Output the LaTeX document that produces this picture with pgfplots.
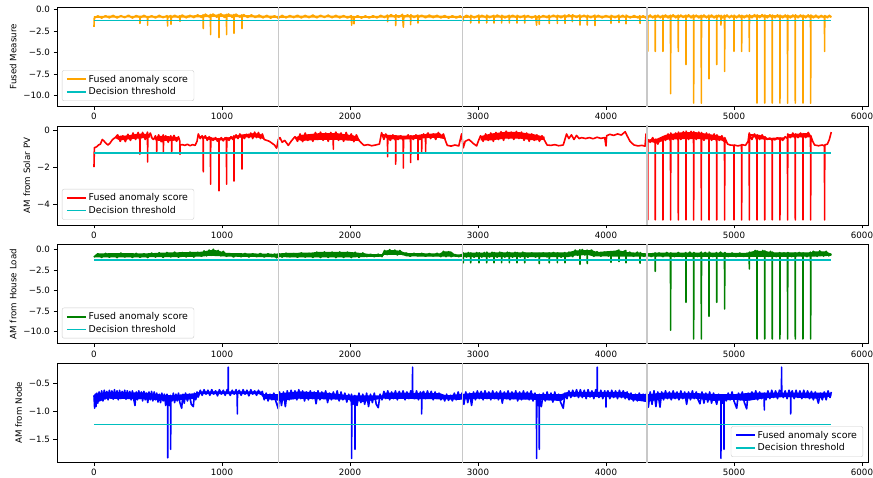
\documentclass[border=0pt]{standalone}
\usepackage{pgfplots}
\pgfplotsset{compat=1.18}
\usepackage{fontspec}
\setmainfont{DejaVu Sans}

\definecolor{mplorange}{HTML}{FFA500}
\definecolor{mplred}{HTML}{FF0000}
\definecolor{mplgreen}{HTML}{008000}
\definecolor{mplblue}{HTML}{0000FF}
\definecolor{mplcyan}{HTML}{00BFBF}
\definecolor{dayline}{HTML}{C8C8C8}
\definecolor{legframe}{HTML}{CCCCCC}

\newcommand{\mplfont}{\fontsize{8.7}{10.4}\selectfont}
\newcommand{\legfont}{\fontsize{9.4}{11}\selectfont}

\pgfplotsset{
  panel/.style={
    anchor=north west, width=811pt, height=98.9pt, scale only axis,
    xmin=-289, xmax=6047,
    xtick={0,1000,2000,3000,4000,5000,6000},
    xticklabels={0,1000,2000,3000,4000,5000,6000},
    xtick pos=left, ytick pos=left,
    tick align=outside, major tick length=3.5pt,
    tick style={black, line width=0.8pt},
    axis line style={line width=0.8pt},
    ticklabel style={font=\mplfont},
    label style={font=\mplfont},
    legend cell align=left,
    legend image code/.code={\draw[#1, line width=1.6pt] (0pt,0pt) -- (19pt,0pt);},
    legend style={font=\legfont, draw=legframe, rounded corners=2pt,
      fill=white, fill opacity=0.8, draw opacity=1, text opacity=1,
      inner xsep=4pt, inner ysep=2.5pt, row sep=0pt},
  },
  scoreline/.style={line width=1.6pt, line join=round},
  noiseband/.style={fill=#1, draw=none, forget plot},
  thresh/.style={color=mplcyan, line width=1.6pt},
  daymark/.style={color=dayline, line width=1.1pt, forget plot},
}

\begin{document}
\begin{tikzpicture}
\path[use as bounding box] (0pt,0pt) rectangle (873pt,-477pt);

% ---------- fused measure ----------
\begin{axis}[panel, at={(57pt,-7.3pt)},
  ymin=-11.26, ymax=0.28,
  ytick={-10,-7.5,-5,-2.5,0}, yticklabels={−10.0,−7.5,−5.0,−2.5,0.0},
  ylabel={Fused Measure},
  legend style={at={(0.006,0.053)}, anchor=south west}]
% spread of the fast fluctuations
\addplot[noiseband=mplorange] coordinates {
(0,-0.75)(120,-0.7)(240,-0.72)(360,-0.7)(480,-0.72)(600,-0.7)(720,-0.68)(840,-0.62)(960,-0.56)(1080,-0.56)(1200,-0.64)(1320,-0.68)(1440,-0.72)(1560,-0.7)(1680,-0.68)(1800,-0.68)(1920,-0.7)(2040,-0.74)(2160,-0.74)(2280,-0.68)(2400,-0.62)(2520,-0.66)(2640,-0.66)(2760,-0.72)(2880,-0.74)(3000,-0.7)(3120,-0.68)(3240,-0.7)(3360,-0.7)(3480,-0.72)(3600,-0.68)(3720,-0.64)(3840,-0.68)(3960,-0.7)(4080,-0.7)(4200,-0.72)(4320,-0.72)(4440,-0.68)(4560,-0.66)(4680,-0.66)(4800,-0.68)(4920,-0.68)(5040,-0.68)(5160,-0.64)(5280,-0.64)(5400,-0.66)(5520,-0.66)(5640,-0.68)(5760,-0.7)
(5760,-0.9)(5640,-0.92)(5520,-0.9)(5400,-0.92)(5280,-0.9)(5160,-0.9)(5040,-0.92)(4920,-0.9)(4800,-0.92)(4680,-0.9)(4560,-0.9)(4440,-0.92)(4320,-0.94)(4200,-0.94)(4080,-0.92)(3960,-0.92)(3840,-0.9)(3720,-0.88)(3600,-0.9)(3480,-0.93)(3360,-0.92)(3240,-0.92)(3120,-0.92)(3000,-0.92)(2880,-0.95)(2760,-0.95)(2640,-0.92)(2520,-0.9)(2400,-0.88)(2280,-0.9)(2160,-0.95)(2040,-0.95)(1920,-0.93)(1800,-0.9)(1680,-0.92)(1560,-0.92)(1440,-0.95)(1320,-0.93)(1200,-0.88)(1080,-0.85)(960,-0.84)(840,-0.88)(720,-0.92)(600,-0.93)(480,-0.94)(360,-0.93)(240,-0.9)(120,-0.92)(0,-0.95)
} -- cycle;
\addplot[scoreline, mplorange] coordinates {
(0,-2.0)(2,-1.0)(30,-0.72)(60,-0.98)(90,-0.70)(120,-0.95)(150,-0.66)(180,-0.97)(210,-0.70)(240,-0.92)(270,-0.64)(300,-0.98)(330,-0.68)(358,-0.9)(359,-1.6)(361,-0.95)(390,-0.66)(418,-0.9)(419,-1.8)(420,-0.95)(450,-0.70)(480,-0.96)(510,-0.66)(540,-0.93)(570,-0.70)(574,-0.9)(575,-1.9)(576,-0.9)(600,-0.68)(602,-1.7)(604,-0.95)(630,-0.64)(660,-0.92)(671,-0.7)(672,-1.35)(673,-0.9)(690,-0.62)(720,-0.95)(750,-0.66)(780,-0.92)(810,-0.6)(840,-0.9)(853,-0.6)(854,-2.2)(855,-0.9)(870,-0.52)(900,-0.85)(910,-0.55)(911,-2.9)(912,-0.8)(930,-0.5)(960,-0.88)(976,-0.55)(977,-3.25)(978,-0.8)(990,-0.48)(1020,-0.9)(1035,-0.55)(1036,-2.9)(1037,-0.8)(1050,-0.5)(1080,-0.9)(1093,-0.55)(1094,-2.75)(1095,-0.85)(1110,-0.52)(1140,-0.88)(1155,-0.6)(1156,-2.2)(1157,-0.9)(1170,-0.58)(1200,-0.9)(1230,-0.6)(1260,-0.92)(1290,-0.62)(1320,-0.95)(1350,-0.66)(1380,-0.98)(1410,-0.7)(1440,-1.0)(1470,-0.66)(1500,-0.95)(1530,-0.68)(1560,-0.92)(1590,-0.64)(1620,-0.96)(1650,-0.66)(1680,-0.93)(1710,-0.62)(1740,-0.95)(1770,-0.65)(1800,-0.9)(1830,-0.63)(1860,-0.94)(1890,-0.66)(1920,-0.96)(1950,-0.68)(1980,-0.97)(2010,-0.7)(2013,-1.8)(2015,-0.95)(2030,-0.8)(2031,-1.65)(2033,-0.95)(2060,-0.7)(2090,-0.98)(2120,-0.72)(2150,-0.97)(2180,-0.7)(2210,-0.96)(2240,-0.66)(2270,-0.92)(2293,-0.62)(2294,-1.4)(2295,-0.9)(2320,-0.58)(2356,-0.9)(2357,-1.85)(2358,-0.6)(2380,-0.88)(2410,-0.55)(2417,-2.05)(2420,-0.9)(2450,-0.6)(2473,-0.9)(2474,-1.75)(2475,-0.6)(2500,-0.92)(2530,-0.62)(2531,-1.55)(2533,-0.9)(2560,-0.64)(2590,-0.95)(2620,-0.62)(2650,-0.93)(2680,-0.66)(2710,-0.96)(2740,-0.68)(2770,-0.98)(2800,-0.7)(2830,-0.97)(2860,-0.72)(2884,-1.0)(2885,-1.3)(2886,-0.9)(2910,-0.66)(2942,-0.9)(2943,-1.55)(2944,-0.66)(2970,-0.95)(3007,-0.64)(3008,-1.55)(3009,-0.92)(3030,-0.66)(3067,-0.95)(3068,-1.55)(3069,-0.64)(3090,-0.93)(3124,-0.66)(3125,-1.55)(3126,-0.95)(3150,-0.62)(3184,-0.92)(3185,-1.55)(3186,-0.65)(3210,-0.96)(3244,-0.66)(3245,-1.55)(3246,-0.93)(3270,-0.64)(3304,-0.95)(3305,-1.55)(3306,-0.66)(3330,-0.92)(3364,-0.66)(3365,-1.55)(3366,-0.95)(3390,-0.68)(3420,-0.97)(3450,-0.7)(3458,-1.8)(3460,-0.95)(3478,-0.7)(3479,-1.7)(3480,-0.96)(3510,-0.68)(3540,-0.93)(3556,-0.66)(3557,-1.6)(3558,-0.92)(3590,-0.64)(3619,-0.93)(3620,-1.6)(3621,-0.66)(3650,-0.95)(3679,-0.62)(3680,-1.6)(3681,-0.92)(3710,-0.6)(3736,-0.9)(3737,-1.4)(3738,-0.6)(3770,-0.9)(3796,-0.62)(3797,-1.8)(3798,-0.92)(3830,-0.64)(3853,-0.95)(3854,-1.8)(3855,-0.66)(3880,-0.94)(3913,-0.64)(3914,-1.85)(3915,-0.92)(3940,-0.66)(3970,-0.95)(4000,-0.68)(4038,-0.96)(4039,-1.6)(4040,-0.66)(4070,-0.93)(4101,-0.64)(4102,-1.5)(4103,-0.95)(4130,-0.66)(4155,-0.92)(4156,-1.65)(4157,-0.64)(4190,-0.95)(4220,-0.68)(4250,-0.97)(4265,-0.7)(4266,-1.6)(4267,-0.96)(4290,-0.7)(4310,-0.98)
(4325,-0.7)(4326,-4.87)(4327,-0.9)(4345,-0.62)(4365,-0.95)(4384,-0.66)(4385,-4.87)(4386,-0.92)(4405,-0.64)(4425,-0.95)(4444,-0.66)(4445,-4.87)(4446,-0.93)(4465,-0.62)(4485,-0.96)(4504,-0.64)(4505,-9.8)(4506,-0.92)(4525,-0.6)(4545,-0.94)(4564,-0.64)(4565,-4.87)(4566,-0.95)(4585,-0.62)(4605,-0.92)(4624,-0.64)(4625,-6.4)(4626,-0.94)(4645,-0.6)(4665,-0.95)(4684,-0.62)(4685,-10.9)(4686,-0.92)(4705,-0.64)(4725,-0.96)(4744,-0.66)(4745,-10.9)(4746,-0.93)(4765,-0.62)(4785,-0.95)(4804,-0.64)(4805,-8.07)(4806,-0.92)(4825,-0.62)(4845,-0.96)(4864,-0.66)(4865,-6.4)(4866,-0.94)(4880,-0.64)(4897,-0.9)(4898,-1.8)(4899,-0.66)(4912,-0.95)(4926,-0.64)(4927,-7.2)(4928,-0.92)(4945,-0.62)(4965,-0.95)(4980,-0.66)(4999,-0.93)(5000,-4.87)(5001,-0.64)(5020,-0.95)(5040,-0.62)(5059,-0.94)(5060,-4.87)(5061,-0.66)(5080,-0.95)(5100,-0.64)(5119,-0.92)(5120,-4.87)(5121,-0.6)(5140,-0.94)(5160,-0.58)(5179,-0.92)(5180,-10.9)(5181,-0.6)(5200,-0.93)(5220,-0.58)(5239,-0.9)(5240,-10.9)(5241,-0.62)(5260,-0.95)(5280,-0.6)(5298,-0.92)(5299,-10.9)(5300,-0.62)(5320,-0.94)(5340,-0.6)(5358,-0.92)(5359,-10.9)(5360,-0.64)(5380,-0.95)(5400,-0.62)(5418,-0.93)(5419,-10.9)(5420,-0.64)(5440,-0.96)(5460,-0.62)(5478,-0.92)(5479,-10.9)(5480,-0.6)(5500,-0.94)(5520,-0.62)(5538,-0.93)(5539,-10.9)(5540,-0.64)(5560,-0.95)(5580,-0.6)(5598,-0.92)(5599,-10.9)(5600,-0.62)(5620,-0.95)(5640,-0.64)(5660,-0.97)(5680,-0.66)(5707,-0.95)(5708,-4.87)(5709,-0.68)(5730,-0.94)(5745,-0.65)(5760,-0.9)
};
\addlegendentry{Fused anomaly score}
\addplot[thresh] coordinates {(0,-1.24)(5760,-1.24)};
\addlegendentry{Decision threshold}
\addplot[daymark] coordinates {(1440,-20)(1440,20)};
\addplot[daymark] coordinates {(2880,-20)(2880,20)};
\addplot[daymark] coordinates {(4320,-20)(4320,20)};
\end{axis}

% ---------- solar PV ----------
\begin{axis}[panel, at={(57pt,-126.0pt)},
  ymin=-5.13, ymax=0.23,
  ytick={-4,-2,0}, yticklabels={−4,−2,0},
  ylabel={AM from Solar PV},
  legend style={at={(0.006,0.053)}, anchor=south west}]
% spread of the fast fluctuations in the busy stretches
\addplot[noiseband=mplred] coordinates {(165,-0.4)(200,-0.3)(265,-0.28)(345,-0.18)(440,-0.2)(440,-0.4)(345,-0.45)(265,-0.5)(200,-0.55)(165,-0.42)} -- cycle;
\addplot[noiseband=mplred] coordinates {(470,-0.4)(505,-0.3)(600,-0.33)(660,-0.38)(660,-0.55)(600,-0.58)(505,-0.58)(470,-0.48)} -- cycle;
\addplot[noiseband=mplred] coordinates {(820,-0.3)(900,-0.38)(1000,-0.45)(1090,-0.33)(1140,-0.24)(1255,-0.15)(1300,-0.2)(1330,-0.45)(1330,-0.5)(1300,-0.42)(1255,-0.38)(1140,-0.4)(1090,-0.46)(1000,-0.55)(900,-0.52)(820,-0.35)} -- cycle;
\addplot[noiseband=mplred] coordinates {(1575,-0.38)(1620,-0.25)(1770,-0.15)(1890,-0.15)(2030,-0.28)(2075,-0.5)(2075,-0.58)(2030,-0.58)(1890,-0.52)(1770,-0.52)(1620,-0.58)(1575,-0.45)} -- cycle;
\addplot[noiseband=mplred] coordinates {(2250,-0.2)(2300,-0.25)(2450,-0.3)(2610,-0.2)(2700,-0.15)(2745,-0.4)(2745,-0.5)(2700,-0.42)(2610,-0.42)(2450,-0.5)(2300,-0.5)(2250,-0.25)} -- cycle;
\addplot[noiseband=mplred] coordinates {(3020,-0.32)(3100,-0.18)(3220,-0.08)(3320,-0.1)(3440,-0.22)(3520,-0.35)(3520,-0.52)(3440,-0.55)(3320,-0.45)(3220,-0.45)(3100,-0.55)(3020,-0.55)} -- cycle;
\addplot[noiseband=mplred] coordinates {(4330,-0.5)(4400,-0.45)(4465,-0.25)(4600,-0.1)(4700,-0.1)(4800,-0.2)(4900,-0.32)(4940,-0.6)(4940,-0.7)(4900,-0.55)(4800,-0.5)(4700,-0.48)(4600,-0.48)(4465,-0.52)(4400,-0.7)(4330,-0.62)} -- cycle;
\addplot[noiseband=mplred] coordinates {(5125,-0.2)(5200,-0.25)(5260,-0.42)(5400,-0.38)(5400,-0.5)(5260,-0.52)(5200,-0.48)(5125,-0.3)} -- cycle;
\addplot[noiseband=mplred] coordinates {(5420,-0.22)(5500,-0.18)(5580,-0.15)(5605,-0.3)(5605,-0.4)(5580,-0.38)(5500,-0.38)(5420,-0.4)} -- cycle;
\addplot[scoreline, mplred] coordinates {
(0,-2.0)(3,-0.95)(20,-0.9)(35,-0.8)(50,-0.75)(65,-0.5)(80,-0.6)(95,-0.72)(110,-0.8)(125,-0.7)(140,-0.55)(155,-0.45)(165,-0.4)(185,-0.25)(205,-0.6)(225,-0.3)(245,-0.62)(265,-0.22)(285,-0.55)(305,-0.15)(325,-0.5)(345,-0.12)(358,-0.55)(359,-1.3)(360,-0.5)(380,-0.12)(400,-0.5)(418,-0.1)(419,-1.72)(420,-0.4)(440,-0.15)(455,-0.45)(465,-0.5)(480,-0.3)(489,-0.6)(490,-1.15)(491,-0.55)(505,-0.25)(525,-0.62)(541,-0.25)(542,-1.2)(543,-0.6)(560,-0.3)(580,-0.65)(600,-0.3)(606,-0.6)(607,-1.2)(608,-0.55)(625,-0.28)(645,-0.6)(660,-0.35)(671,-0.6)(672,-1.3)(673,-0.8)(690,-0.78)(710,-0.82)(730,-0.76)(750,-0.84)(770,-0.78)(790,-0.82)(805,-0.6)(815,-0.2)
(830,-0.45)(845,-0.3)(853,-0.5)(854,-2.25)(855,-0.45)(870,-0.3)(885,-0.55)(900,-0.35)(910,-0.5)(911,-2.92)(912,-0.4)(930,-0.55)(950,-0.4)(965,-0.6)(976,-0.45)(977,-3.28)(978,-0.55)(995,-0.4)(1010,-0.58)(1025,-0.4)(1035,-0.55)(1036,-2.92)(1037,-0.4)(1055,-0.55)(1070,-0.35)(1085,-0.5)(1093,-0.3)(1094,-2.75)(1095,-0.45)(1110,-0.25)(1125,-0.45)(1140,-0.2)(1155,-0.42)(1156,-2.1)(1157,-0.3)(1175,-0.45)(1190,-0.22)(1210,-0.4)(1225,-0.15)(1240,-0.45)(1255,-0.1)(1270,-0.4)(1285,-0.12)(1300,-0.45)(1315,-0.2)(1330,-0.5)(1350,-0.55)(1370,-0.6)(1390,-0.7)(1410,-0.8)(1427,-0.97)(1440,-0.5)(1453,-0.4)
(1470,-0.65)(1490,-0.55)(1518,-0.82)(1540,-0.6)(1570,-0.35)(1590,-0.6)(1610,-0.2)(1630,-0.62)(1650,-0.15)(1670,-0.55)(1690,-0.25)(1710,-0.6)(1730,-0.12)(1750,-0.5)(1770,-0.1)(1790,-0.55)(1810,-0.15)(1830,-0.6)(1850,-0.12)(1869,-0.5)(1870,-1.03)(1871,-0.4)(1890,-0.1)(1910,-0.55)(1930,-0.15)(1950,-0.6)(1970,-0.12)(1990,-0.5)(2010,-0.2)(2030,-0.62)(2050,-0.25)(2070,-0.55)(2090,-0.7)(2110,-0.82)(2140,-0.78)(2170,-0.84)(2200,-0.8)(2230,-0.75)(2247,-0.13)
(2265,-0.5)(2280,-0.2)(2293,-0.45)(2294,-1.44)(2295,-0.3)(2315,-0.55)(2335,-0.25)(2356,-0.55)(2357,-1.84)(2358,-0.4)(2375,-0.5)(2395,-0.3)(2416,-0.55)(2417,-2.05)(2418,-0.4)(2435,-0.45)(2455,-0.25)(2473,-0.5)(2474,-1.75)(2475,-0.3)(2495,-0.5)(2515,-0.25)(2530,-0.45)(2531,-1.6)(2532,-0.3)(2545,-0.5)(2559,-0.25)(2560,-1.2)(2561,-0.4)(2575,-0.2)(2590,-0.4)(2591,-1.15)(2592,-0.3)(2610,-0.15)(2630,-0.45)(2650,-0.2)(2670,-0.5)(2690,-0.12)(2710,-0.4)(2730,-0.2)(2745,-0.55)(2760,-0.82)(2790,-0.86)(2820,-0.8)(2850,-0.85)(2872,-0.2)(2885,-0.95)(2900,-0.6)(2930,-0.5)(2960,-0.7)(2989,-0.85)(3005,-0.55)
(3020,-0.3)(3040,-0.6)(3060,-0.2)(3080,-0.55)(3100,-0.15)(3120,-0.6)(3140,-0.12)(3160,-0.5)(3180,-0.08)(3200,-0.55)(3220,-0.05)(3240,-0.45)(3260,-0.1)(3280,-0.5)(3300,-0.06)(3320,-0.45)(3340,-0.1)(3360,-0.55)(3380,-0.15)(3400,-0.6)(3420,-0.2)(3440,-0.55)(3460,-0.25)(3480,-0.6)(3500,-0.3)(3520,-0.55)(3540,-0.8)(3570,-0.82)(3600,-0.78)(3630,-0.84)(3666,-0.8)(3692,-0.2)(3710,-0.45)(3730,-0.25)(3750,-0.5)(3770,-0.28)(3790,-0.45)(3810,-0.4)(3840,-0.45)(3870,-0.4)(3900,-0.46)(3930,-0.38)(3960,-0.44)(3990,-0.4)(4000,-0.85)(4005,-0.3)(4030,-0.22)(4060,-0.28)(4090,-0.2)(4120,-0.26)(4150,-0.08)(4165,-0.3)(4188,-0.6)(4205,-0.72)(4220,-0.8)(4250,-0.85)(4280,-0.82)(4305,-0.86)(4313,-0.2)
(4325,-0.6)(4326,-4.86)(4327,-0.5)(4345,-0.65)(4365,-0.4)(4384,-0.7)(4385,-4.86)(4386,-0.5)(4405,-0.75)(4425,-0.45)(4444,-0.6)(4445,-4.86)(4446,-0.35)(4465,-0.55)(4485,-0.2)(4504,-0.6)(4505,-4.86)(4506,-0.15)(4525,-0.5)(4545,-0.15)(4564,-0.55)(4565,-4.86)(4566,-0.1)(4585,-0.5)(4605,-0.08)(4624,-0.45)(4625,-4.86)(4626,-0.05)(4645,-0.5)(4665,-0.06)(4684,-0.45)(4685,-4.86)(4686,-0.08)(4705,-0.5)(4725,-0.1)(4744,-0.5)(4745,-4.86)(4746,-0.12)(4765,-0.55)(4785,-0.15)(4804,-0.5)(4805,-4.86)(4806,-0.2)(4825,-0.55)(4845,-0.2)(4864,-0.6)(4865,-4.86)(4866,-0.25)(4885,-0.55)(4905,-0.3)(4926,-0.6)(4927,-4.86)(4928,-0.4)(4950,-0.75)(4970,-0.8)(4999,-0.82)(5000,-4.86)(5001,-0.8)(5030,-0.85)(5059,-0.8)(5060,-4.86)(5061,-0.78)(5090,-0.82)(5110,-0.6)(5119,-0.15)(5120,-4.86)(5121,-0.2)
(5140,-0.5)(5160,-0.2)(5179,-0.55)(5180,-4.86)(5181,-0.25)(5200,-0.5)(5220,-0.25)(5239,-0.5)(5240,-4.86)(5241,-0.35)(5260,-0.5)(5280,-0.42)(5298,-0.55)(5299,-4.86)(5300,-0.45)(5320,-0.52)(5340,-0.4)(5358,-0.5)(5359,-4.86)(5360,-0.42)(5380,-0.55)(5400,-0.35)(5418,-0.45)(5419,-4.86)(5420,-0.2)(5440,-0.4)(5460,-0.15)(5478,-0.45)(5479,-4.86)(5480,-0.2)(5500,-0.4)(5520,-0.15)(5538,-0.42)(5539,-4.86)(5540,-0.18)(5560,-0.4)(5580,-0.12)(5598,-0.35)(5599,-4.86)(5600,-0.3)(5615,-0.6)(5630,-0.8)(5660,-0.84)(5690,-0.8)(5707,-0.85)(5708,-4.86)(5709,-0.8)(5730,-0.75)(5745,-0.5)(5760,-0.1)
};
\addlegendentry{Fused anomaly score}
\addplot[thresh] coordinates {(0,-1.24)(5760,-1.24)};
\addlegendentry{Decision threshold}
\addplot[daymark] coordinates {(1440,-20)(1440,20)};
\addplot[daymark] coordinates {(2880,-20)(2880,20)};
\addplot[daymark] coordinates {(4320,-20)(4320,20)};
\end{axis}

% ---------- house load ----------
\begin{axis}[panel, at={(57pt,-244.7pt)},
  ymin=-11.5, ymax=0.61,
  ytick={-10,-7.5,-5,-2.5,0}, yticklabels={−10.0,−7.5,−5.0,−2.5,0.0},
  ylabel={AM from House Load},
  legend style={at={(0.006,0.053)}, anchor=south west}]
% spread of the fast fluctuations
\addplot[noiseband=mplgreen] coordinates {
(0,-0.8)(30,-0.45)(200,-0.42)(400,-0.45)(560,-0.35)(700,-0.3)(840,-0.25)(900,-0.08)(932,0.0)(970,-0.12)(1036,-0.4)(1200,-0.45)(1400,-0.5)(1500,-0.4)(1700,-0.35)(1740,-0.28)(2000,-0.28)(2100,-0.42)(2160,-0.55)(2250,-0.55)(2270,-0.12)(2310,-0.03)(2390,-0.12)(2440,-0.42)(2700,-0.45)(2730,-0.22)(2790,-0.22)(2820,-0.58)(2870,-0.58)(2900,-0.35)(3700,-0.33)(3760,-0.08)(3888,-0.05)(3930,-0.28)(4100,-0.08)(4160,-0.28)(4320,-0.45)(4400,-0.36)(5100,-0.38)(5165,-0.12)(5240,-0.15)(5300,-0.32)(5600,-0.34)(5620,-0.22)(5720,-0.22)(5760,-0.5)
(5760,-0.75)(5600,-0.86)(5100,-0.88)(4320,-0.86)(3900,-0.82)(3860,-0.65)(3760,-0.72)(3700,-0.92)(2900,-0.92)(2870,-0.88)(2800,-0.86)(2720,-0.86)(2440,-0.82)(2410,-0.65)(2270,-0.62)(2250,-0.86)(2100,-0.9)(2000,-0.95)(1700,-0.95)(1450,-0.92)(1427,-1.0)(1400,-0.92)(1036,-0.85)(990,-0.8)(900,-0.75)(840,-0.85)(600,-0.92)(0,-0.94)
} -- cycle;
\addplot[scoreline, mplgreen] coordinates {
(0,-0.9)(30,-0.5)(60,-0.95)(90,-0.45)(120,-0.92)(150,-0.5)(180,-0.97)(210,-0.42)(240,-0.9)(270,-0.5)(300,-0.95)(330,-0.45)(360,-0.93)(390,-0.5)(420,-0.96)(450,-0.42)(480,-0.9)(510,-0.38)(540,-0.94)(570,-0.35)(600,-0.88)(630,-0.3)(660,-0.92)(690,-0.35)(720,-0.88)(750,-0.3)(780,-0.9)(810,-0.32)(840,-0.8)(860,-0.15)(880,-0.75)(900,-0.05)(915,-0.7)(932,0.05)(950,-0.6)(970,-0.1)(990,-0.75)(1010,-0.2)(1036,-0.8)(1060,-0.45)(1090,-0.9)(1120,-0.5)(1150,-0.88)(1180,-0.45)(1210,-0.9)(1240,-0.5)(1270,-0.86)(1300,-0.45)(1330,-0.9)(1360,-0.5)(1390,-0.88)(1410,-0.55)(1427,-1.0)(1445,-0.5)(1470,-0.9)(1500,-0.42)(1530,-0.88)(1560,-0.45)(1590,-0.92)(1620,-0.4)(1650,-0.9)(1680,-0.45)(1710,-0.95)(1740,-0.3)(1770,-0.96)(1800,-0.28)(1830,-0.95)(1860,-0.3)(1890,-0.97)(1920,-0.28)(1950,-0.95)(1980,-0.3)(2010,-0.96)(2040,-0.32)(2070,-0.94)(2100,-0.4)(2130,-0.85)(2160,-0.55)(2190,-0.86)(2220,-0.55)(2250,-0.84)(2270,-0.1)(2290,-0.6)(2310,0.0)(2330,-0.55)(2350,-0.05)(2370,-0.65)(2390,-0.1)(2410,-0.6)(2440,-0.4)(2470,-0.8)(2500,-0.45)(2530,-0.78)(2560,-0.45)(2590,-0.8)(2620,-0.48)(2650,-0.78)(2680,-0.45)(2710,-0.85)(2730,-0.2)(2750,-0.85)(2770,-0.25)(2790,-0.85)(2820,-0.6)(2850,-0.86)(2870,-0.6)
(2884,-0.9)(2885,-1.6)(2886,-0.4)(2910,-0.9)(2925,-0.35)(2942,-0.88)(2943,-1.6)(2944,-0.4)(2970,-0.92)(2990,-0.35)(3007,-0.9)(3008,-1.6)(3009,-0.38)(3030,-0.9)(3050,-0.35)(3067,-0.92)(3068,-1.6)(3069,-0.3)(3090,-0.9)(3110,-0.32)(3124,-0.9)(3125,-1.6)(3126,-0.35)(3150,-0.92)(3170,-0.3)(3184,-0.88)(3185,-1.6)(3186,-0.35)(3210,-0.9)(3230,-0.3)(3244,-0.9)(3245,-1.6)(3246,-0.35)(3270,-0.92)(3290,-0.32)(3304,-0.9)(3305,-1.6)(3306,-0.35)(3330,-0.9)(3350,-0.3)(3364,-0.88)(3365,-1.6)(3366,-0.4)(3390,-0.92)(3420,-0.4)(3450,-0.9)(3478,-0.45)(3479,-1.7)(3480,-0.9)(3510,-0.4)(3540,-0.88)(3556,-0.4)(3557,-1.6)(3558,-0.9)(3590,-0.35)(3619,-0.9)(3620,-1.6)(3621,-0.4)(3650,-0.92)(3679,-0.35)(3680,-1.6)(3681,-0.9)(3710,-0.3)(3740,-0.85)(3760,-0.05)(3780,-0.7)(3796,0.0)(3797,-1.8)(3798,-0.6)(3815,0.02)(3835,-0.65)(3853,-0.05)(3854,-1.7)(3855,-0.6)(3875,-0.15)(3888,-0.05)(3905,-0.8)(3930,-0.25)(3960,-0.8)(3990,-0.3)(4020,-0.78)(4038,-0.25)(4039,-1.55)(4040,-0.8)(4070,-0.3)(4101,-0.05)(4102,-1.45)(4103,-0.75)(4130,-0.3)(4155,-0.1)(4156,-1.6)(4157,-0.8)(4185,-0.3)(4215,-0.8)(4245,-0.3)(4265,-0.8)(4266,-1.65)(4267,-0.35)(4295,-0.82)(4325,-0.5)
(4355,-0.85)(4384,-0.4)(4385,-2.65)(4386,-0.85)(4415,-0.4)(4445,-0.85)(4475,-0.35)(4504,-0.86)(4505,-9.87)(4506,-0.4)(4535,-0.85)(4565,-0.35)(4595,-0.84)(4624,-0.35)(4625,-6.45)(4626,-0.85)(4655,-0.3)(4684,-0.85)(4685,-10.93)(4686,-0.35)(4715,-0.84)(4744,-0.3)(4745,-10.93)(4746,-0.85)(4775,-0.35)(4804,-0.85)(4805,-8.16)(4806,-0.3)(4835,-0.84)(4864,-0.35)(4865,-6.45)(4866,-0.86)(4895,-0.3)(4926,-0.85)(4927,-7.26)(4928,-0.35)(4955,-0.84)(4985,-0.4)(5015,-0.86)(5045,-0.4)(5075,-0.85)(5100,-0.45)(5119,-0.85)(5120,-2.37)(5121,-0.3)(5150,-0.8)(5165,-0.1)(5179,-0.75)(5180,-10.93)(5181,-0.15)(5210,-0.8)(5225,-0.1)(5239,-0.75)(5240,-10.93)(5241,-0.15)(5270,-0.82)(5285,-0.2)(5298,-0.8)(5299,-10.93)(5300,-0.3)(5330,-0.85)(5358,-0.35)(5359,-10.93)(5360,-0.85)(5390,-0.4)(5418,-0.86)(5419,-10.93)(5420,-0.35)(5450,-0.85)(5478,-0.4)(5479,-10.93)(5480,-0.86)(5510,-0.35)(5538,-0.85)(5539,-10.93)(5540,-0.4)(5570,-0.85)(5598,-0.3)(5599,-10.93)(5600,-0.8)(5620,-0.2)(5650,-0.8)(5670,-0.15)(5700,-0.78)(5720,-0.2)(5740,-0.75)(5760,-0.5)
};
\addlegendentry{Fused anomaly score}
\addplot[thresh] coordinates {(0,-1.24)(5760,-1.24)};
\addlegendentry{Decision threshold}
\addplot[daymark] coordinates {(1440,-20)(1440,20)};
\addplot[daymark] coordinates {(2880,-20)(2880,20)};
\addplot[daymark] coordinates {(4320,-20)(4320,20)};
\end{axis}

% ---------- node ----------
\begin{axis}[panel, at={(57pt,-363.3pt)},
  ymin=-1.908, ymax=-0.151,
  ytick={-1.5,-1,-0.5}, yticklabels={−1.5,−1.0,−0.5},
  ylabel={AM from Node},
  legend style={at={(0.994,0.053)}, anchor=south east}]
% spread of the fast fluctuations
\addplot[noiseband=mplblue] coordinates {
(0,-0.72)(20,-0.69)(100,-0.66)(400,-0.67)(500,-0.7)(600,-0.72)(700,-0.7)(800,-0.68)(830,-0.65)(1300,-0.65)(1330,-0.7)(1440,-0.7)(1460,-0.68)(1600,-0.65)(1800,-0.67)(2000,-0.72)(2250,-0.72)(2270,-0.67)(2700,-0.68)(2750,-0.72)(2850,-0.7)(3000,-0.67)(3400,-0.67)(3450,-0.7)(3650,-0.7)(3700,-0.66)(4150,-0.66)(4200,-0.7)(4320,-0.7)(4450,-0.67)(4700,-0.68)(4880,-0.7)(5000,-0.7)(5150,-0.67)(5700,-0.67)(5760,-0.68)
(5760,-0.74)(5650,-0.78)(5400,-0.75)(5250,-0.77)(5100,-0.82)(5000,-0.8)(4850,-0.82)(4700,-0.78)(4450,-0.78)(4320,-0.84)(4200,-0.8)(4150,-0.76)(3700,-0.74)(3650,-0.82)(3450,-0.8)(3000,-0.78)(2850,-0.8)(2700,-0.79)(2250,-0.78)(2100,-0.84)(2000,-0.8)(1600,-0.78)(1450,-0.82)(1330,-0.78)(1300,-0.7)(830,-0.7)(800,-0.78)(600,-0.82)(400,-0.79)(100,-0.78)(20,-0.85)(0,-0.8)
} -- cycle;
\addplot[scoreline, mplblue] coordinates {
(0,-0.72)(5,-0.95)(10,-0.7)(16,-0.92)(22,-0.68)(30,-0.86)(40,-0.66)(50,-0.8)(60,-0.64)(70,-0.82)(80,-0.63)(90,-0.78)(100,-0.65)(110,-0.8)(120,-0.63)(130,-0.76)(140,-0.64)(150,-0.79)(160,-0.62)(170,-0.77)(180,-0.64)(190,-0.8)(200,-0.63)(210,-0.78)(220,-0.65)(230,-0.76)(240,-0.63)(250,-0.79)(260,-0.64)(270,-0.77)(280,-0.65)(290,-0.8)(300,-0.64)(310,-0.78)(320,-0.9)(330,-0.66)(340,-0.8)(350,-0.64)(360,-0.78)(370,-0.66)(380,-0.82)(390,-0.65)(400,-0.8)(410,-0.68)(420,-0.85)(430,-0.66)(440,-0.8)(450,-0.65)(460,-0.82)(470,-0.66)(480,-0.8)(490,-0.68)(500,-0.84)(510,-0.7)(520,-0.85)(530,-0.68)(540,-0.82)(550,-0.7)(560,-0.9)(570,-0.7)(575,-0.8)(576,-1.83)(577,-0.75)(590,-0.9)(598,-0.72)(599,-1.68)(600,-0.75)(610,-0.82)(620,-0.68)(630,-0.85)(640,-0.7)(650,-0.82)(660,-0.68)(670,-0.84)(685,-0.95)(695,-0.7)(705,-0.86)(715,-0.68)(730,-0.82)(745,-0.7)(760,-0.88)(776,-0.92)(785,-0.68)(795,-0.8)(805,-0.66)(815,-0.75)
(830,-0.63)(845,-0.72)(860,-0.62)(875,-0.7)(890,-0.63)(905,-0.72)(920,-0.62)(935,-0.7)(950,-0.64)(965,-0.73)(980,-0.62)(995,-0.7)(1010,-0.63)(1025,-0.72)(1040,-0.62)(1048,-0.68)(1049,-0.22)(1050,-0.66)(1065,-0.72)(1080,-0.63)(1095,-0.7)(1110,-0.62)(1119,-0.72)(1120,-1.05)(1121,-0.68)(1135,-0.63)(1150,-0.72)(1165,-0.62)(1180,-0.7)(1195,-0.63)(1210,-0.73)(1225,-0.62)(1240,-0.7)(1255,-0.64)(1270,-0.72)(1285,-0.63)(1300,-0.7)(1315,-0.65)(1330,-0.8)(1345,-0.68)(1360,-0.82)(1375,-0.7)(1390,-0.8)(1405,-0.68)(1420,-0.82)(1440,-0.96)(1450,-0.66)
(1465,-0.9)(1480,-0.66)(1495,-0.92)(1510,-0.64)(1525,-0.8)(1540,-0.63)(1555,-0.78)(1570,-0.64)(1585,-0.8)(1600,-0.62)(1615,-0.78)(1630,-0.64)(1645,-0.82)(1660,-0.66)(1675,-0.8)(1690,-0.64)(1705,-0.78)(1720,-0.66)(1735,-0.87)(1750,-0.64)(1765,-0.8)(1780,-0.66)(1795,-0.78)(1810,-0.64)(1825,-0.85)(1840,-0.68)(1855,-0.8)(1870,-0.66)(1885,-0.78)(1900,-0.64)(1915,-0.82)(1930,-0.66)(1945,-0.8)(1960,-0.68)(1975,-0.84)(1990,-0.7)(2005,-0.82)(2012,-0.7)(2013,-1.84)(2014,-0.75)(2025,-0.88)(2038,-0.72)(2039,-1.68)(2040,-0.75)(2055,-0.9)(2070,-0.68)(2085,-0.85)(2100,-0.7)(2115,-0.88)(2130,-0.68)(2145,-0.92)(2160,-0.7)(2175,-0.85)(2190,-0.68)(2205,-0.88)(2221,-0.94)(2235,-0.7)(2250,-0.8)(2265,-0.65)(2280,-0.78)(2295,-0.64)(2310,-0.8)(2325,-0.66)(2340,-0.78)(2355,-0.64)(2370,-0.8)(2385,-0.65)(2400,-0.76)(2415,-0.64)(2430,-0.8)(2445,-0.66)(2460,-0.78)(2475,-0.64)(2488,-0.7)(2489,-0.22)(2490,-0.68)(2505,-0.78)(2520,-0.64)(2535,-0.8)(2550,-0.66)(2559,-0.74)(2560,-1.05)(2561,-0.7)(2575,-0.65)(2590,-0.78)(2605,-0.64)(2620,-0.76)(2635,-0.65)(2650,-0.8)(2665,-0.66)(2680,-0.78)(2695,-0.68)(2710,-0.8)(2725,-0.72)(2740,-0.82)(2755,-0.7)(2770,-0.81)(2785,-0.72)(2800,-0.82)(2815,-0.68)(2830,-0.8)(2845,-0.66)(2860,-0.78)(2875,-0.68)(2890,-0.88)(2905,-0.66)(2920,-0.85)(2935,-0.68)(2950,-0.9)(2965,-0.66)(2980,-0.8)(2995,-0.64)
(3010,-0.78)(3025,-0.65)(3040,-0.8)(3055,-0.64)(3070,-0.78)(3085,-0.66)(3100,-0.8)(3115,-0.64)(3130,-0.78)(3145,-0.66)(3160,-0.8)(3175,-0.64)(3190,-0.86)(3205,-0.66)(3220,-0.78)(3235,-0.64)(3250,-0.8)(3265,-0.66)(3280,-0.78)(3295,-0.64)(3310,-0.82)(3325,-0.66)(3340,-0.8)(3355,-0.64)(3370,-0.78)(3385,-0.66)(3400,-0.8)(3415,-0.64)(3430,-0.82)(3445,-0.68)(3457,-0.8)(3458,-1.84)(3459,-0.75)(3470,-0.9)(3478,-0.7)(3479,-1.68)(3480,-0.75)(3495,-0.92)(3510,-0.68)(3525,-0.82)(3540,-0.66)(3555,-0.8)(3570,-0.68)(3585,-0.84)(3600,-0.66)(3615,-0.8)(3630,-0.7)(3645,-0.84)(3666,-0.95)(3680,-0.68)(3695,-0.78)(3710,-0.64)(3725,-0.76)(3740,-0.63)(3755,-0.74)(3770,-0.62)(3785,-0.76)(3800,-0.62)(3815,-0.76)(3830,-0.63)(3845,-0.78)(3860,-0.62)(3875,-0.75)(3890,-0.64)(3905,-0.78)(3920,-0.62)(3931,-0.7)(3932,-0.22)(3933,-0.66)(3945,-0.76)(3960,-0.63)(3975,-0.78)(3990,-0.64)(3999,-0.75)(4000,-0.93)(4001,-0.7)(4015,-0.64)(4030,-0.78)(4045,-0.63)(4060,-0.76)(4075,-0.64)(4090,-0.78)(4105,-0.63)(4120,-0.76)(4135,-0.64)(4150,-0.78)(4165,-0.66)(4180,-0.8)(4195,-0.68)(4214,-0.82)(4230,-0.7)(4245,-0.82)(4260,-0.68)(4275,-0.8)(4290,-0.7)(4305,-0.82)(4318,-0.68)
(4331,-0.93)(4345,-0.66)(4360,-0.88)(4375,-0.64)(4390,-0.92)(4405,-0.66)(4422,-0.93)(4435,-0.66)(4450,-0.8)(4465,-0.64)(4480,-0.78)(4495,-0.66)(4510,-0.8)(4525,-0.64)(4540,-0.78)(4555,-0.66)(4570,-0.8)(4585,-0.64)(4600,-0.78)(4615,-0.66)(4630,-0.88)(4645,-0.66)(4660,-0.8)(4675,-0.64)(4690,-0.78)(4705,-0.66)(4720,-0.8)(4734,-0.87)(4750,-0.66)(4765,-0.86)(4780,-0.68)(4795,-0.84)(4810,-0.66)(4825,-0.86)(4840,-0.68)(4865,-0.88)(4880,-0.7)(4897,-0.82)(4898,-1.84)(4899,-0.75)(4910,-0.86)(4921,-0.72)(4922,-1.68)(4923,-0.75)(4940,-0.82)(4955,-0.68)(4970,-0.8)(4985,-0.66)(5000,-0.82)(5021,-0.95)(5035,-0.68)(5050,-0.8)(5065,-0.66)(5080,-0.84)(5099,-0.96)(5110,-0.68)(5125,-0.8)(5140,-0.66)(5155,-0.78)(5170,-0.64)(5185,-0.8)(5200,-0.66)(5215,-0.78)(5236,-0.7)(5237,-0.98)(5238,-0.68)(5250,-0.8)(5265,-0.64)(5280,-0.78)(5295,-0.63)(5310,-0.76)(5325,-0.64)(5340,-0.78)(5355,-0.63)(5371,-0.68)(5372,-0.22)(5373,-0.66)(5385,-0.76)(5400,-0.64)(5415,-0.78)(5430,-0.63)(5442,-0.72)(5443,-1.05)(5444,-0.7)(5455,-0.64)(5470,-0.78)(5485,-0.63)(5500,-0.76)(5515,-0.64)(5530,-0.78)(5545,-0.63)(5560,-0.76)(5575,-0.64)(5590,-0.78)(5605,-0.65)(5620,-0.8)(5635,-0.66)(5659,-0.86)(5675,-0.68)(5690,-0.8)(5705,-0.66)(5720,-0.8)(5735,-0.64)(5750,-0.76)(5760,-0.66)
};
\addlegendentry{Fused anomaly score}
\addplot[thresh] coordinates {(0,-1.24)(5760,-1.24)};
\addlegendentry{Decision threshold}
\addplot[daymark] coordinates {(1440,-20)(1440,20)};
\addplot[daymark] coordinates {(2880,-20)(2880,20)};
\addplot[daymark] coordinates {(4320,-20)(4320,20)};
\end{axis}
\end{tikzpicture}
\end{document}
